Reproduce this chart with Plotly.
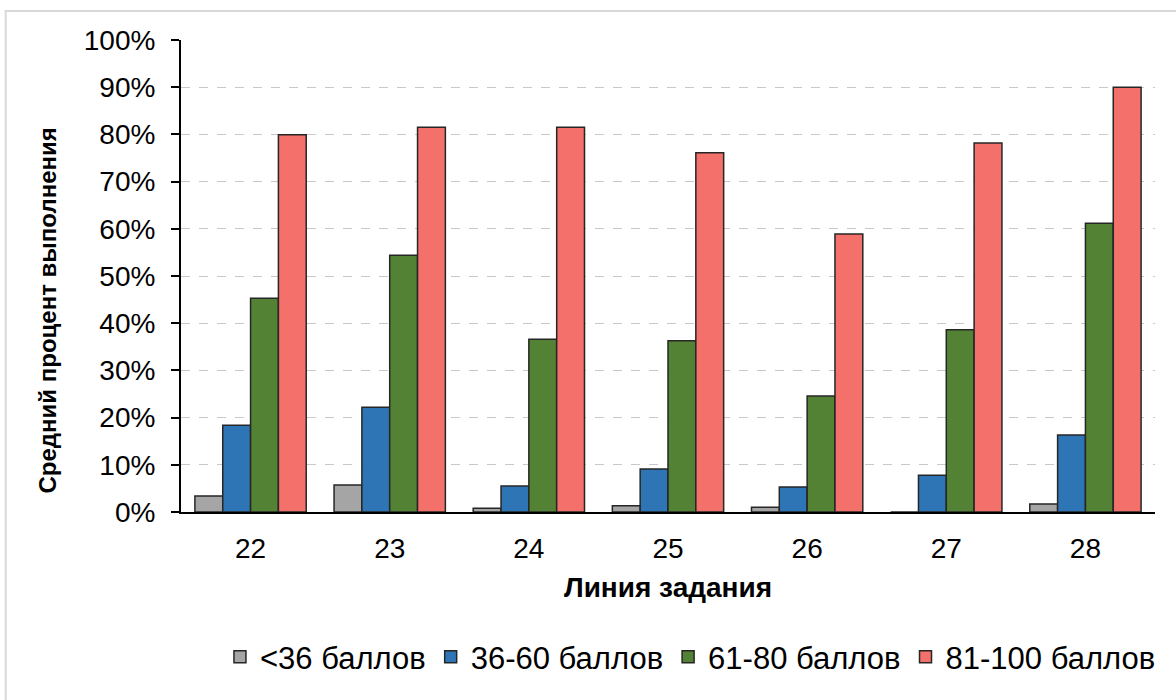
import plotly.graph_objects as go

# Task lines and mean completion percentage per score group
categories = ["22", "23", "24", "25", "26", "27", "28"]
below_36 = [3.4, 5.7, 0.8, 1.3, 1.0, 0.0, 1.7]
from_36_to_60 = [18.4, 22.2, 5.5, 9.1, 5.3, 7.8, 16.3]
from_61_to_80 = [45.3, 54.4, 36.6, 36.3, 24.6, 38.6, 61.2]
from_81_to_100 = [79.9, 81.5, 81.5, 76.1, 58.9, 78.2, 90.0]

series = [
    ("<36 баллов", below_36, "#A5A5A5"),
    ("36-60 баллов", from_36_to_60, "#2E75B6"),
    ("61-80 баллов", from_61_to_80, "#548235"),
    ("81-100 баллов", from_81_to_100, "#F4706A"),
]

fig = go.Figure()
for name, values, color in series:
    fig.add_trace(go.Bar(
        x=categories,
        y=values,
        name=name,
        marker=dict(color=color, line=dict(color="#262626", width=1.5)),
    ))

font_family = "Liberation Sans, Arial, sans-serif"

fig.update_layout(
    width=1176,
    height=700,
    margin=dict(l=181, r=21, t=40, b=188),
    paper_bgcolor="white",
    plot_bgcolor="white",
    barmode="group",
    bargap=0.2,
    bargroupgap=0,
    font=dict(family=font_family, color="#000000", size=28),
    xaxis=dict(
        showline=True,
        linecolor="#000000",
        linewidth=2,
        ticks="",
        tickfont=dict(size=28),
        ticklabelstandoff=10,
        showgrid=False,
    ),
    yaxis=dict(
        range=[0, 100],
        dtick=10,
        ticksuffix="%",
        showline=True,
        linecolor="#000000",
        linewidth=2,
        ticks="outside",
        ticklen=8,
        tickwidth=2,
        tickcolor="#000000",
        tickfont=dict(size=28),
        ticklabelstandoff=10,
        showgrid=True,
        gridcolor="#C8C8C8",
        griddash="dash",
        gridwidth=1.2,
        zeroline=False,
    ),
    legend=dict(
        orientation="h",
        x=0.04,
        y=-0.25,
        xanchor="left",
        yanchor="top",
        font=dict(size=31),
        itemwidth=30,
        tracegroupgap=0,
    ),
    annotations=[
        dict(
            text="<b>Линия задания</b>",
            xref="paper",
            yref="paper",
            x=0.5,
            y=-0.161,
            xanchor="center",
            yanchor="middle",
            showarrow=False,
            font=dict(size=28),
        ),
        dict(
            text="<b>Средний процент выполнения</b>",
            xref="paper",
            yref="paper",
            x=-0.137,
            y=0.426,
            xanchor="center",
            yanchor="middle",
            textangle=-90,
            showarrow=False,
            font=dict(size=24),
        ),
    ],
    shapes=[
        dict(
            type="rect",
            xref="paper",
            yref="paper",
            x0=-0.18,
            x1=1.05,
            y0=-0.5,
            y1=1.0614,
            line=dict(color="#D9D9D9", width=2),
            fillcolor="rgba(0,0,0,0)",
            layer="below",
        )
    ],
)

fig.write_html("out.html")
